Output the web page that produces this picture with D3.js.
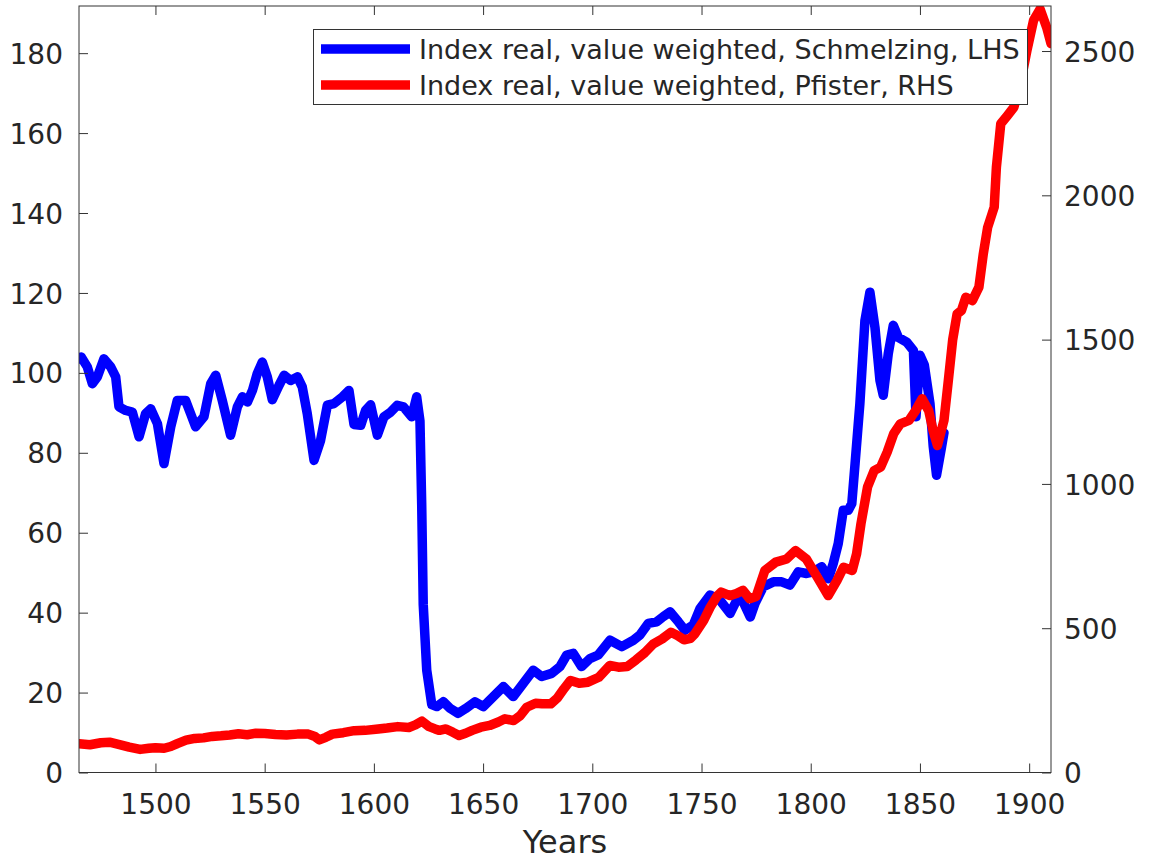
<!DOCTYPE html>
<html>
<head>
<meta charset="utf-8">
<script src="https://cdn.jsdelivr.net/npm/d3@7"></script>
<style>
  html, body { margin: 0; padding: 0; background: #fff; }
  svg { display: block; font-family: "DejaVu Sans", sans-serif; }
</style>
</head>
<body>
<script>
// Schmelzing index (left-hand scale)
const schmelzingYears = [1465,1466,1468.8,1471.1,1473.4,1476.4,1479.5,1481.8,1483.3,1486.4,1489.4,1492.5,1495.5,1497.8,1500.9,1503.9,1507,1510,1513.8,1516.1,1518.4,1522.2,1525.3,1527.6,1530.6,1534.4,1537.5,1539.8,1542.1,1544.4,1546.6,1548.9,1551.2,1553.5,1556.6,1558.9,1561.9,1565,1567.2,1569.5,1572.6,1575.6,1578.7,1581.7,1585.6,1588.6,1590.9,1594,1596.2,1598.5,1601.6,1604.6,1607.7,1610.7,1613.5,1617.3,1619.6,1621.1,1621.9,1622.6,1624.2,1626.5,1628.8,1631.8,1635,1638.6,1642,1646.3,1650.1,1654.7,1659.3,1663.8,1668.4,1673,1676.8,1681.4,1685.2,1688.3,1691.3,1695.1,1698.9,1702.7,1708.1,1713.5,1718.8,1721.8,1725.6,1729.5,1732.5,1735.6,1739.4,1742.4,1746.2,1749.3,1753.9,1758.5,1763.1,1766.1,1768.4,1772.3,1774.5,1778.3,1782.9,1786.7,1790.5,1794.3,1798.1,1801.2,1805,1808.1,1810.3,1812.6,1814.9,1817.2,1818.8,1820.3,1822.5,1824.8,1827.1,1829.4,1831.7,1833.2,1835.5,1837.8,1840.1,1843.9,1847,1848.2,1849,1850,1852,1854.6,1856.1,1857.6,1859.9,1861];
const schmelzingIndex = [103.5,104,101.5,97.3,99,103.5,101.5,99,91.5,90.6,90.2,84,89.8,91,87.3,77.3,86.5,93.1,93.1,89.8,86.5,89,97.3,99.4,93.1,84.4,91.5,94,92.7,95.6,99.8,102.7,99,93.3,96.9,99.4,98.1,99,96.5,89.8,78.1,83.1,91.9,92.3,94,95.6,87.1,86.9,90.6,92,84.4,89,90.2,91.9,91.5,89,94,88,67,42,25.6,17,16.5,17.7,16,14.8,16,17.7,16.5,19,21.5,19,22.3,25.6,24,24.8,26.5,29.4,29.8,26.5,28.5,29.4,33.1,31.5,33.1,34.4,37.3,37.7,39,40.2,37.7,35.6,36.9,41,44.4,43.1,39.8,43.1,43.5,38.9,42.3,46.5,47.7,47.7,46.9,50.2,49.8,50.2,51.5,48.5,52.3,57.3,65.6,65.6,67.3,77.3,92.3,113,120.2,111.4,98.1,94.4,104.8,111.9,108.9,107.7,105.6,89,96,104.4,102,92.3,81.5,74.4,81.5,85];

// Pfister index (right-hand scale)
const pfisterYears = [1465,1470,1475,1479,1484,1488,1493,1497,1500,1504,1507,1510,1514,1518,1522,1526,1530,1534,1538,1542,1546,1550,1555,1560,1565,1570,1573,1575,1578,1581,1586,1591,1596,1602,1606,1611,1616,1619,1622,1625,1628,1630,1633,1636,1639,1642,1645,1649,1653,1657,1660,1664,1667,1670,1674,1677,1681,1684,1687,1690,1694,1698,1703,1708,1712,1716,1720,1724,1728,1732,1736,1739,1742,1745,1747,1751,1754,1757,1759,1763,1766,1769,1772,1775,1779,1784,1789,1793,1798,1803,1808,1812,1815,1819,1821,1823,1826,1829,1832,1835,1838,1841,1845,1848,1851,1854,1856,1858,1861,1863,1865,1867,1869,1871,1874,1877,1879,1881,1884,1885,1887,1890,1893,1896,1899,1902,1905,1908,1910];
const pfisterIndex = [100,96,103,105,96,88,80,84,86,84,90,100,112,118,120,125,127,130,134,131,136,135,132,130,133,133,125,113,122,133,138,145,146,151,154,159,156,165,178,160,151,146,151,140,128,136,146,157,163,175,186,180,197,226,240,238,238,258,290,319,309,313,330,371,365,367,390,415,446,463,486,475,460,465,481,527,573,610,625,613,620,631,602,610,700,729,740,769,740,677,613,665,711,700,758,862,989,1046,1058,1110,1174,1208,1220,1254,1295,1254,1185,1133,1220,1358,1500,1589,1601,1647,1635,1682,1797,1889,1959,2097,2248,2276,2305,2386,2502,2606,2645,2582,2526];

const xTicks = [1500,1550,1600,1650,1700,1750,1800,1850,1900];
const leftTicks = [0,20,40,60,80,100,120,140,160,180];
const rightTicks = [0,500,1000,1500,2000,2500];
const seriesLabels = ["Index real, value weighted, Schmelzing, LHS",
                      "Index real, value weighted, Pfister, RHS"];
const seriesColors = ["#0000ff", "#ff0000"];
const xLabel = "Years";

const W = 1151, H = 860;
const plot = { left: 79, top: 6, right: 1051, bottom: 772.5 };
const axisColor = "#333333";
const textColor = "#262626";
const tickLen = 9;
const lineWidth = 9.5;

const svg = d3.select("body").append("svg").attr("width", W).attr("height", H);
svg.append("rect").attr("width", W).attr("height", H).attr("fill", "#fff");

const x = d3.scaleLinear().domain([1465, 1910]).range([plot.left, plot.right]);
const yL = d3.scaleLinear().domain([0, 191.8]).range([plot.bottom, plot.top]);
const yR = d3.scaleLinear().domain([0, 2656]).range([plot.bottom, plot.top]);

svg.append("clipPath").attr("id", "plotClip")
  .append("rect")
  .attr("x", plot.left).attr("y", plot.top)
  .attr("width", plot.right - plot.left).attr("height", plot.bottom - plot.top);

const lines = svg.append("g").attr("clip-path", "url(#plotClip)");

const blueData = schmelzingYears.map((yr, i) => [yr, schmelzingIndex[i]]);
const redData = pfisterYears.map((yr, i) => [yr, pfisterIndex[i]]);

lines.append("path")
  .datum(blueData)
  .attr("fill", "none")
  .attr("stroke", seriesColors[0])
  .attr("stroke-width", lineWidth)
  .attr("stroke-linejoin", "round")
  .attr("stroke-linecap", "round")
  .attr("d", d3.line().x(d => x(d[0])).y(d => yL(d[1])));

lines.append("path")
  .datum(redData)
  .attr("fill", "none")
  .attr("stroke", seriesColors[1])
  .attr("stroke-width", lineWidth)
  .attr("stroke-linejoin", "round")
  .attr("stroke-linecap", "round")
  .attr("d", d3.line().x(d => x(d[0])).y(d => yR(d[1])));

// axes box and ticks
const fontTicks = 28;
function styleAxis(g) {
  g.select(".domain").remove();
  g.selectAll(".tick line").attr("stroke", axisColor).attr("stroke-width", 1);
  g.selectAll(".tick text").attr("fill", textColor).attr("font-size", fontTicks)
    .attr("font-family", "DejaVu Sans, sans-serif");
}

// bottom axis (ticks inward)
const gx = svg.append("g").attr("transform", `translate(0,${plot.bottom})`)
  .call(d3.axisBottom(x).tickValues(xTicks).tickFormat(d3.format("d"))
    .tickSizeInner(-tickLen).tickSizeOuter(0).tickPadding(22));
styleAxis(gx);

// top axis ticks only
const gxTop = svg.append("g").attr("transform", `translate(0,${plot.top})`)
  .call(d3.axisTop(x).tickValues(xTicks).tickFormat("")
    .tickSizeInner(-tickLen).tickSizeOuter(0));
styleAxis(gxTop);

// left axis
const gyL = svg.append("g").attr("transform", `translate(${plot.left},0)`)
  .call(d3.axisLeft(yL).tickValues(leftTicks).tickFormat(d3.format("d"))
    .tickSizeInner(-tickLen).tickSizeOuter(0).tickPadding(16));
styleAxis(gyL);
gyL.selectAll(".tick text").attr("dy", "0.36em");

// right axis
const gyR = svg.append("g").attr("transform", `translate(${plot.right},0)`)
  .call(d3.axisRight(yR).tickValues(rightTicks).tickFormat(d3.format("d"))
    .tickSizeInner(-tickLen).tickSizeOuter(0).tickPadding(13));
styleAxis(gyR);
gyR.selectAll(".tick text").attr("dy", "0.36em");

svg.append("rect")
  .attr("x", plot.left).attr("y", plot.top)
  .attr("width", plot.right - plot.left).attr("height", plot.bottom - plot.top)
  .attr("fill", "none").attr("stroke", axisColor).attr("stroke-width", 1);

// x label
svg.append("text")
  .attr("x", x(1687.5)).attr("y", 853)
  .attr("text-anchor", "middle")
  .attr("font-size", 32)
  .attr("fill", textColor)
  .text(xLabel);

// legend
const legend = svg.append("g");
legend.append("rect")
  .attr("x", 313.5).attr("y", 29.5).attr("width", 714).attr("height", 75)
  .attr("fill", "#fff").attr("stroke", axisColor).attr("stroke-width", 1);
const rowY = [49, 85];
seriesLabels.forEach((lab, i) => {
  legend.append("line")
    .attr("x1", 321).attr("x2", 410).attr("y1", rowY[i]).attr("y2", rowY[i])
    .attr("stroke", seriesColors[i]).attr("stroke-width", lineWidth);
  legend.append("text")
    .attr("x", 419).attr("y", rowY[i]).attr("dy", "0.36em")
    .attr("font-size", 27).attr("fill", textColor)
    .text(lab);
});
</script>
</body>
</html>
